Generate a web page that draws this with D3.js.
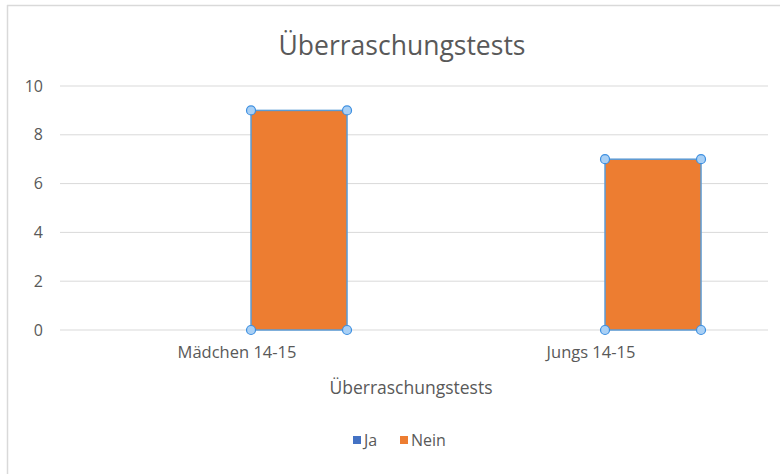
<!DOCTYPE html>
<html>
<head>
<meta charset="utf-8">
<script src="https://d3js.org/d3.v7.min.js"></script>
<style>
  body { margin: 0; background: #fff; }
  text { font-family: "Open Sans", "Noto Sans", sans-serif; fill: #595959; }
</style>
</head>
<body>
<script>
const categories = ['Mädchen 14-15', 'Jungs 14-15'];
const series = ['Ja', 'Nein'];
const jaValues = [0, 0];
const neinValues = [9, 7];
const yTicks = [0, 2, 4, 6, 8, 10];
const colors = { 'Ja': '#4472C4', 'Nein': '#ED7D31' };

const width = 780, height = 474;
const margin = { top: 86, right: 12, bottom: 144, left: 60 };

const svg = d3.select('body').append('svg')
    .attr('width', width)
    .attr('height', height);

// chart frame (only top and left edges visible in the screenshot)
svg.append('line').attr('x1', 7).attr('x2', width).attr('y1', 5.5).attr('y2', 5.5)
    .attr('stroke', '#d9d9d9').attr('stroke-width', 1.5);
svg.append('line').attr('x1', 7.5).attr('x2', 7.5).attr('y1', 5).attr('y2', height)
    .attr('stroke', '#d9d9d9').attr('stroke-width', 1.5);

const x0 = d3.scaleBand()
    .domain(categories)
    .range([margin.left, width - margin.right])
    .padding(0);

// series gap inside each category (Ja bars are zero, so only Nein shows)
const x1 = d3.scaleBand()
    .domain(series)
    .range([0, x0.bandwidth()])
    .paddingInner(0.226)
    .paddingOuter(0.54);

const y = d3.scaleLinear()
    .domain([0, 10])
    .range([height - margin.bottom, margin.top]);

// gridlines
svg.append('g')
    .selectAll('line')
    .data(yTicks)
    .enter().append('line')
    .attr('x1', margin.left)
    .attr('x2', width - margin.right)
    .attr('y1', d => y(d))
    .attr('y2', d => y(d))
    .attr('stroke', '#d9d9d9')
    .attr('stroke-width', 1);

// y axis labels
const yAxis = d3.axisLeft(y).tickValues(yTicks).tickSize(0).tickPadding(0);
const yg = svg.append('g')
    .attr('transform', `translate(${margin.left - 17},0)`)
    .call(yAxis);
yg.select('.domain').remove();
yg.selectAll('text').style('font-size', '16px').attr('fill', '#595959');

// x axis labels
const xAxis = d3.axisBottom(x0).tickSize(0).tickPadding(0);
const xg = svg.append('g')
    .attr('transform', `translate(0,${y(0) + 16})`)
    .call(xAxis);
xg.select('.domain').remove();
xg.selectAll('text').style('font-size', '16.5px').attr('fill', '#595959');

// bars
const rows = categories.map((c, i) => ({ category: c, values: [
    { key: 'Ja', value: jaValues[i] },
    { key: 'Nein', value: neinValues[i] }
]}));

const groups = svg.append('g')
    .selectAll('g')
    .data(rows)
    .enter().append('g')
    .attr('transform', d => `translate(${x0(d.category)},0)`);

groups.selectAll('rect')
    .data(d => d.values.filter(v => v.value > 0))
    .enter().append('rect')
    .attr('x', d => x1(d.key))
    .attr('y', d => y(d.value))
    .attr('width', x1.bandwidth())
    .attr('height', d => y(0) - y(d.value))
    .attr('fill', d => colors[d.key])
    .attr('stroke', '#5B9BD5')
    .attr('stroke-width', 1.5);

// selection handles on the Nein bars
groups.selectAll('circle')
    .data(d => {
        const v = d.values.find(s => s.key === 'Nein');
        const xl = x1('Nein'), xr = x1('Nein') + x1.bandwidth();
        return [[xl, y(v.value)], [xr, y(v.value)], [xl, y(0)], [xr, y(0)]];
    })
    .enter().append('circle')
    .attr('cx', d => d[0])
    .attr('cy', d => d[1])
    .attr('r', 4.5)
    .attr('fill', '#a9d0f5')
    .attr('stroke', '#3d8fe0')
    .attr('stroke-width', 1.2);

// title
svg.append('text')
    .attr('x', 402)
    .attr('y', 55)
    .attr('text-anchor', 'middle')
    .style('font-size', '26.5px')
    .text('Überraschungstests');

// axis title
svg.append('text')
    .attr('x', 411)
    .attr('y', 394)
    .attr('text-anchor', 'middle')
    .style('font-size', '17.5px')
    .text('Überraschungstests');

// legend
const legend = svg.append('g')
    .attr('transform', 'translate(353,440)');
const items = legend.selectAll('g')
    .data(series)
    .enter().append('g')
    .attr('transform', (d, i) => `translate(${i * 47},0)`);
items.append('rect')
    .attr('x', 0).attr('y', -4)
    .attr('width', 8).attr('height', 8)
    .attr('fill', d => colors[d]);
items.append('text')
    .attr('x', 11)
    .attr('y', 6)
    .style('font-size', '16px')
    .text(d => d);
</script>
</body>
</html>
